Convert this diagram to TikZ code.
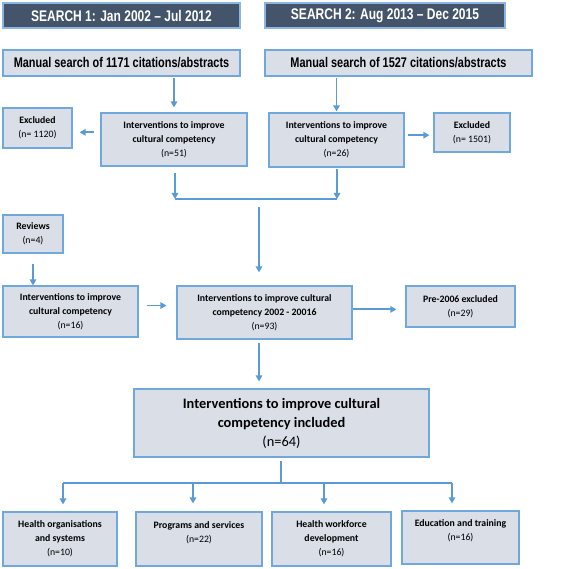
\documentclass[tikz,border=0pt]{standalone}
\usepackage{fontspec}
\setmainfont{Carlito}
\newfontfamily\narrowfont[FakeStretch=0.78]{Liberation Sans}
\usetikzlibrary{arrows.meta}
\definecolor{hdrfill}{HTML}{44546A}
\definecolor{hdrline}{HTML}{8DB4E2}
\definecolor{boxfill}{HTML}{D9DEE7}
\definecolor{boxline}{HTML}{6FA8DC}
\definecolor{arrowcol}{HTML}{5B9BD5}
\newcommand\bx[7]{\node[#2, minimum width={#5-#3}, minimum height={#6-#4}] (#1) at ({(#3+#5)/2},{(#4+#6)/2}) {#7};}
\begin{document}
\begin{tikzpicture}[x=1pt,y=-1pt,
 hdr/.style={draw=hdrline, line width=1.5pt, fill=hdrfill, text=white, font=\narrowfont\bfseries\fontsize{15.4}{18}\selectfont, inner sep=0pt},
 srch/.style={draw=boxline, line width=1.2pt, fill=boxfill, font=\narrowfont\bfseries\fontsize{14}{16}\selectfont, inner sep=0pt},
 stage/.style={draw=boxline, line width=1.2pt, fill=boxfill, align=center, font=\fontsize{9.8}{14}\selectfont, inner sep=0pt},
 bigbox/.style={stage, font=\fontsize{14.4}{19}\selectfont},
 arr/.style={draw=arrowcol, line width=1.8pt, -{Triangle[width=6.5pt,length=6pt]}},
 ln/.style={draw=arrowcol, line width=1.8pt}
]
\useasboundingbox (0,0) rectangle (567,569);
\bx{hdr1}{hdr}{3}{3}{240}{28}{SEARCH 1: Jan 2002 – Jul 2012}
\bx{hdr2}{hdr}{265}{3}{505}{28}{SEARCH 2: Aug 2013 – Dec 2015}
\bx{m1}{srch}{3}{50}{240}{76}{Manual search of 1171 citations/abstracts}
\bx{m2}{srch}{265}{50}{532}{76}{Manual search of 1527 citations/abstracts}
\bx{ex1}{stage}{3}{108}{72}{148}{\textbf{Excluded}\\(n= 1120)}
\bx{i51}{stage}{101}{113}{247}{166}{\textbf{Interventions to improve}\\\textbf{cultural competency}\\(n=51)}
\bx{i26}{stage}{269}{113}{404}{167}{\textbf{Interventions to improve}\\\textbf{cultural competency}\\(n=26)}
\bx{ex2}{stage}{434}{113}{510}{152}{\textbf{Excluded}\\(n= 1501)}
\bx{rev}{stage}{3}{215}{63}{253}{\textbf{Reviews}\\(n=4)}
\bx{i16}{stage}{3}{286}{138}{337}{\textbf{Interventions to improve}\\\textbf{cultural competency}\\(n=16)}
\bx{i93}{stage}{177}{286}{352}{339}{\textbf{Interventions to improve cultural}\\\textbf{competency 2002 - 20016}\\(n=93)}
\bx{pre}{stage}{406}{286}{515}{327}{\textbf{Pre-2006 excluded}\\(n=29)}
\bx{big}{bigbox}{134}{389}{429}{457}{\textbf{Interventions to improve cultural}\\\textbf{competency included}\\(n=64)}
\bx{h1}{stage}{3}{512}{117}{566}{\textbf{Health organisations}\\\textbf{and systems}\\(n=10)}
\bx{h2}{stage}{136}{512}{262}{566}{\textbf{Programs and services}\\(n=22)\\~}
\bx{h3}{stage}{272}{512}{391}{566}{\textbf{Health workforce}\\\textbf{development}\\(n=16)}
\bx{h4}{stage}{402}{511}{519}{564}{\textbf{Education and training}\\(n=16)\\~}
% connectors
\draw[arr, shorten <=1.5pt, shorten >=5pt] (m1.south -| i51.north) -- (i51.north);
\draw[arr, shorten <=1.5pt, shorten >=1pt] (m2.south -| i26.north) -- (i26.north);
\draw[arr, shorten <=6pt, shorten >=7pt] (i51.west |- ex1.-7) -- (ex1.-7);
\draw[arr, shorten <=3pt, shorten >=4pt] (i26.east |- ex2.184) -- (ex2.184);
\coordinate (j1) at (175,199);
\coordinate (j2) at (337,199);
\coordinate (jm) at (259,207);
\draw[arr, shorten <=6pt] (i51.south -| j1) -- (j1);
\draw[arr, shorten <=1.5pt] (i26.south -| j2) -- (j2);
\draw[ln] (j1) -- (j2);
\draw[arr, shorten >=13pt] (jm) -- (jm |- i93.north);
\draw[arr, shorten <=10pt] (rev.south) -- (rev.south |- i16.north);
\draw[arr, shorten <=8pt, shorten >=10pt] (i16.5) -- (i16.5 -| i93.west);
\draw[arr, shorten >=9pt] (i93.east |- pre.183) -- (pre.183);
\draw[arr, shorten <=3pt, shorten >=7pt] (i93.south -| jm) -- (big.north -| jm);
\coordinate (b0) at (281,483);
\coordinate (b1) at (63,483);
\coordinate (b2) at (193,483);
\coordinate (b3) at (324,483);
\coordinate (b4) at (452,483);
\draw[ln, shorten <=3pt] (big.south -| b0) -- (b0);
\draw[ln] (b1) -- (b4);
\draw[arr, shorten >=7pt] (b1) -- (b1 |- h1.north);
\draw[arr, shorten >=8pt] (b2) -- (b2 |- h2.north);
\draw[arr, shorten >=7pt] (b3) -- (b3 |- h3.north);
\draw[arr, shorten >=7pt] (b4) -- (b4 |- h4.north);
\end{tikzpicture}
\end{document}
